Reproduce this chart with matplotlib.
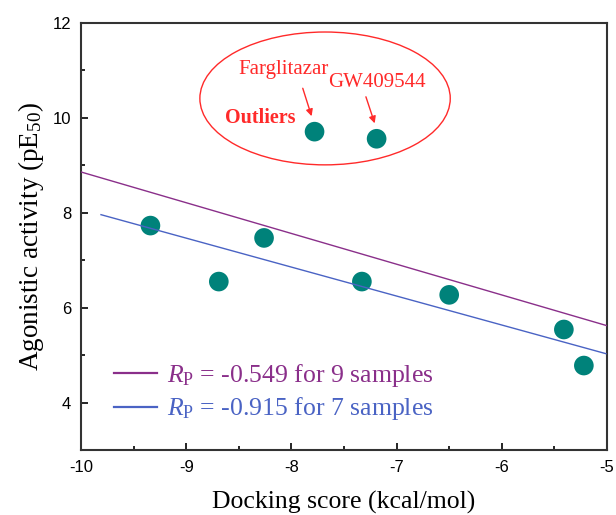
import matplotlib
matplotlib.use("Agg")
import matplotlib.pyplot as plt
from matplotlib.patches import Ellipse
from matplotlib.ticker import MultipleLocator

# Data
dock_score = [-9.34, -8.69, -8.26, -7.33, -6.50, -5.41, -5.22]
activity = [7.73, 6.55, 7.47, 6.55, 6.27, 5.54, 4.78]
outlier_names = ["Farglitazar", "GW409544"]
outlier_score = [-7.78, -7.19]
outlier_activity = [9.71, 9.56]
fit9_x = [-10.0, -5.0]
fit9_y = [8.86, 5.62]
fit7_x = [-9.81, -5.01]
fit7_y = [7.96, 5.03]
label9 = r"$R_{\mathrm{P}}$ = -0.549 for 9 samples"
label7 = r"$R_{\mathrm{P}}$ = -0.915 for 7 samples"

purple = "#8a2f8a"
blue = "#4a63c4"
teal = "#00827a"
red = "#ff2a2a"

plt.rcParams["axes.unicode_minus"] = False
plt.rcParams["mathtext.fontset"] = "custom"
plt.rcParams["mathtext.rm"] = "Liberation Serif"
plt.rcParams["mathtext.it"] = "Liberation Serif:italic"

fig = plt.figure(figsize=(6.16, 5.15), dpi=100)
ax = fig.add_axes([81/616, 1-450/515, 526/616, 427/515])

ax.plot(fit9_x, fit9_y, color=purple, lw=1.0, zorder=3)
ax.plot(fit7_x, fit7_y, color=blue, lw=1.0, zorder=3)
ax.scatter(dock_score, activity, s=200, color=teal, zorder=2, edgecolors="none")
ax.scatter(outlier_score, outlier_activity, s=200, color=teal, zorder=2, edgecolors="none")

ax.set_xlim(-10, -5)
ax.set_ylim(3, 12)
ax.xaxis.set_major_locator(MultipleLocator(1))
ax.xaxis.set_minor_locator(MultipleLocator(0.5))
ax.yaxis.set_minor_locator(MultipleLocator(1))
ax.set_yticks([4, 6, 8, 10, 12])
ax.tick_params(which="both", direction="in", top=False, right=False,
               labelsize=12, labelfontfamily="Liberation Sans", pad=7)
ax.tick_params(which="major", length=5, width=1.2)
ax.tick_params(which="minor", length=3, width=1.2)
for s in ax.spines.values():
    s.set_linewidth(1.5)
    s.set_color("#333333")

ax.set_xlabel("Docking score (kcal/mol)", fontsize=18.5, family="Liberation Serif", labelpad=12)
ax.set_ylabel(r"Agonistic activity (pE$_{\mathrm{50}}$)", fontsize=19.5,
              family="Liberation Serif", labelpad=4.5)

# Ellipse around outliers
ax.add_patch(Ellipse((-7.68, 10.41), 2.38, 2.8, fill=False, edgecolor=red, lw=1.0))
ax.text(-8.07, 11.02, outlier_names[0], color=red, fontsize=15, family="Liberation Serif",
        ha="center", va="center")
ax.text(-7.19, 10.74, outlier_names[1], color=red, fontsize=15, family="Liberation Serif",
        ha="center", va="center")
ax.text(-8.30, 10.0, "Outliers", color=red, fontsize=14.5, fontweight="bold",
        family="Liberation Serif", ha="center", va="center")
ax.annotate("", xy=(-7.80, 9.98), xytext=(-7.90, 10.68),
            arrowprops=dict(arrowstyle="-|>", color=red, lw=1.0, mutation_scale=10))
ax.annotate("", xy=(-7.20, 9.83), xytext=(-7.30, 10.50),
            arrowprops=dict(arrowstyle="-|>", color=red, lw=1.0, mutation_scale=10))

# Legend drawn manually
ax.plot([-9.69, -9.28], [4.62, 4.62], color=purple, lw=1.6)
ax.plot([-9.69, -9.28], [3.91, 3.91], color=blue, lw=1.6)
ax.text(-9.18, 4.58, label9, color=purple, fontsize=18.5, family="Liberation Serif", va="center")
ax.text(-9.18, 3.87, label7, color=blue, fontsize=18.5, family="Liberation Serif", va="center")

fig.savefig("out.png", dpi=100)
